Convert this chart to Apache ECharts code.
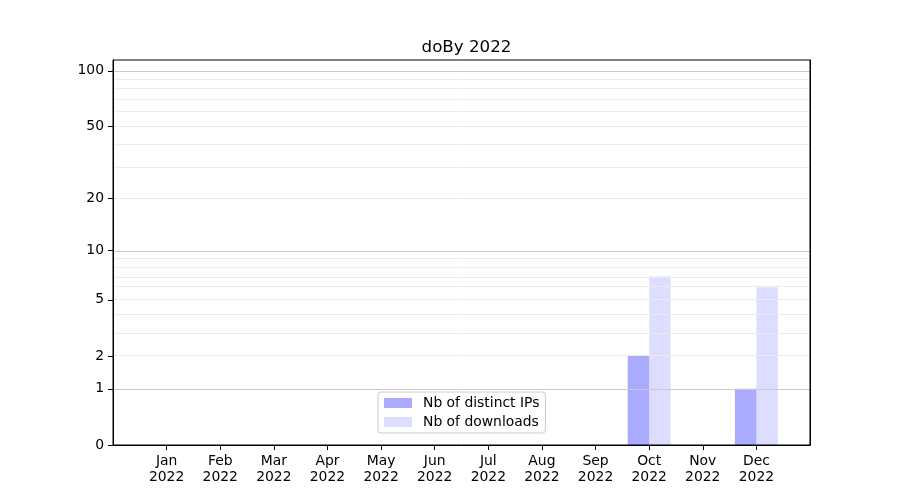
<!DOCTYPE html>
<html>
<head>
<meta charset="utf-8">
<script src="https://cdn.jsdelivr.net/npm/echarts@6/dist/echarts.min.js"></script>
<style>html,body{margin:0;padding:0;background:#fff}#c{width:900px;height:500px}</style>
</head>
<body>
<div id="c"></div>
<script>
const titleText = 'doBy 2022';
const months = ['Jan','Feb','Mar','Apr','May','Jun','Jul','Aug','Sep','Oct','Nov','Dec'];
const yearLabel = '2022';
const ipsCounts = [0,0,0,0,0,0,0,0,0,2,0,1];
const downloadCounts = [0,0,0,0,0,0,0,0,0,7,0,6];
const yTickValues = [0,1,2,5,10,20,50,100];
const majorGridValues = [1,10,100];
const minorGridValues = [2,3,4,5,6,7,8,9,20,30,40,50,60,70,80,90];
const yTopValue = 114.5;
const seriesNames = ['Nb of distinct IPs','Nb of downloads'];

const tf = v => Math.log10(1 + v);
const FONT = 'DejaVu Sans';

const categories = [''].concat(months.map(m => m + '\n' + yearLabel)).concat(['']);
const pad = arr => [null].concat(arr.map(tf)).concat([null]);

const gridLines = majorGridValues.map(v => ({yAxis: tf(v), lineStyle: {color: '#cbcbcb', width: 1, type: 'solid'}}))
  .concat(minorGridValues.map(v => ({yAxis: tf(v), lineStyle: {color: '#ececec', width: 1, type: 'solid'}})));

const frameAxisLine = {show: true, lineStyle: {color: '#000', width: 1}};

const chart = echarts.init(document.getElementById('c'), null, {renderer: 'canvas'});
chart.setOption({
  animation: false,
  backgroundColor: '#fff',
  title: {
    text: titleText, left: 461.5, textAlign: 'center', top: 34,
    textStyle: {fontFamily: FONT, fontSize: 16.7, fontWeight: 'normal', color: '#000'}
  },
  grid: {left: 113, right: 90, top: 60, bottom: 55, show: true, z: 10, borderColor: '#000', borderWidth: 1, backgroundColor: 'transparent'},
  legend: {
    orient: 'vertical', left: 378, top: 392,
    padding: [4, 6, 4, 6], itemGap: 5, itemWidth: 28, itemHeight: 10,
    icon: 'rect', borderColor: '#cccccc', borderWidth: 1, borderRadius: 3,
    backgroundColor: 'rgba(255,255,255,0.8)',
    textStyle: {fontFamily: FONT, fontSize: 13.9, color: '#000', padding: [0, 0, 0, 6]},
    data: seriesNames
  },
  xAxis: [{
    type: 'category', data: categories, boundaryGap: false, z: 10,
    axisLine: frameAxisLine,
    axisTick: {show: true, length: 5, interval: (i) => i > 0 && i < categories.length - 1, lineStyle: {color: '#000'}},
    axisLabel: {interval: 0, margin: 8, fontFamily: FONT, fontSize: 13.9, color: '#000', lineHeight: 16},
    splitLine: {show: false}
  }],
  yAxis: [{
    type: 'value', min: 0, max: tf(yTopValue), z: 10,
    axisLine: frameAxisLine,
    axisTick: {show: true, length: 5, customValues: yTickValues.map(tf), lineStyle: {color: '#000'}},
    axisLabel: {customValues: yTickValues.map(tf), margin: 9, fontFamily: FONT, fontSize: 13.9, color: '#000',
      formatter: v => String(Math.round(Math.pow(10, v) - 1))},
    splitLine: {show: false}
  }, {
    type: 'value', min: 0, max: tf(yTopValue), position: 'right', z: 10,
    axisLine: frameAxisLine, axisTick: {show: false}, axisLabel: {show: false}, splitLine: {show: false}
  }],
  series: [
    {
      name: seriesNames[0], type: 'bar', data: pad(ipsCounts), barWidth: 21.45, barGap: '0%',
      itemStyle: {color: 'rgba(0,0,255,0.333)'},
      markLine: {silent: true, symbol: ['none', 'none'], label: {show: false}, animation: false, data: gridLines},
      z: 2
    },
    {
      name: seriesNames[1], type: 'bar', data: pad(downloadCounts), barWidth: 21.45, barGap: '0%',
      itemStyle: {color: 'rgba(0,0,255,0.135)'},
      z: 2
    }
  ]
});
</script>
</body>
</html>
